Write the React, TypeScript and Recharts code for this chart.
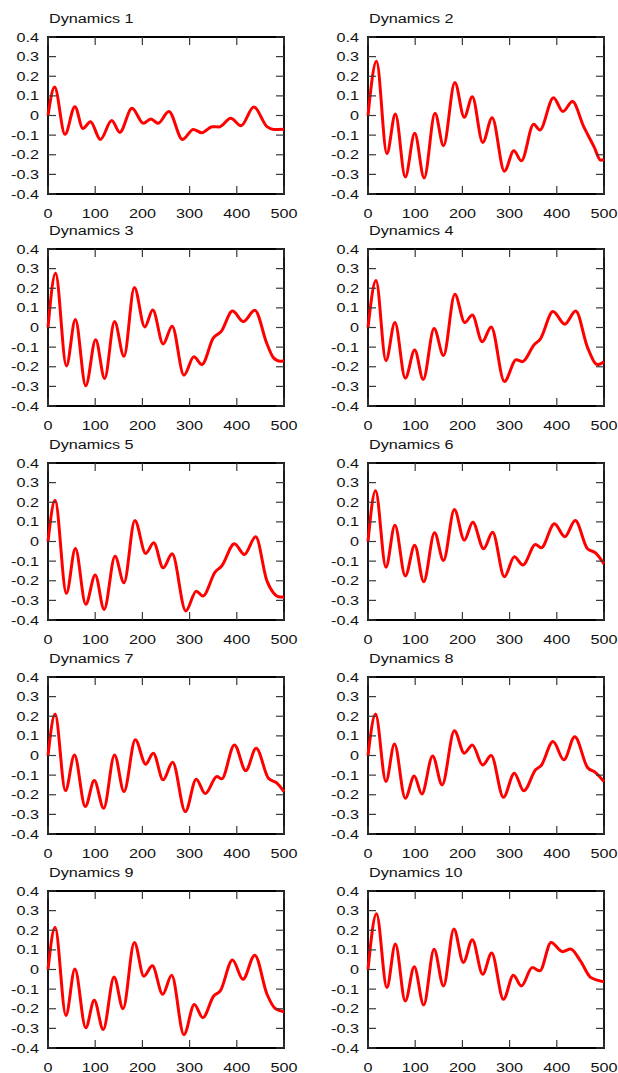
import React from "react";
import { Line, LineChart, ReferenceArea, XAxis, YAxis } from "recharts";

// Tick positions shared by every panel
const xTicks = [0, 100, 200, 300, 400, 500];
const yTicks = [-0.4, -0.3, -0.2, -0.1, 0, 0.1, 0.2, 0.3, 0.4];

// [step, value] pairs traced at each turning point of a run
const dynamics1: [number, number][] = [
  [0, 0], [14, 0.145], [36, -0.096], [57, 0.045], [74, -0.066], [90, -0.032],
  [111, -0.122], [135, -0.026], [152, -0.086], [178, 0.037], [202, -0.04],
  [218, -0.018], [233, -0.04], [256, 0.02], [285, -0.122], [308, -0.071],
  [326, -0.088], [348, -0.057], [363, -0.058], [387, -0.014], [409, -0.052],
  [436, 0.043], [464, -0.057], [478, -0.071], [500, -0.07],
];
const dynamics2: [number, number][] = [
  [0, 0], [18, 0.276], [40, -0.194], [58, 0.008], [79, -0.313], [99, -0.091],
  [119, -0.318], [142, 0.011], [160, -0.154], [184, 0.168], [204, -0.009],
  [221, 0.096], [243, -0.137], [263, -0.011], [289, -0.284], [309, -0.18],
  [325, -0.231], [351, -0.045], [364, -0.074], [393, 0.091], [413, 0.02],
  [433, 0.071], [457, -0.057], [479, -0.16], [493, -0.228], [500, -0.224],
];
const dynamics3: [number, number][] = [
  [0, 0], [16, 0.277], [39, -0.196], [58, 0.041], [80, -0.297], [101, -0.062],
  [120, -0.26], [141, 0.03], [161, -0.147], [183, 0.204], [205, 0.003],
  [222, 0.089], [244, -0.084], [263, 0.007], [288, -0.243], [309, -0.149],
  [326, -0.189], [350, -0.054], [367, -0.02], [391, 0.084], [414, 0.03],
  [438, 0.088], [464, -0.084], [478, -0.155], [492, -0.172], [500, -0.169],
];
const dynamics4: [number, number][] = [
  [0, 0], [17, 0.24], [38, -0.169], [57, 0.025], [79, -0.258], [99, -0.115],
  [117, -0.265], [140, -0.005], [160, -0.143], [184, 0.169], [205, 0.025],
  [221, 0.064], [242, -0.073], [261, 0.003], [289, -0.275], [314, -0.164],
  [327, -0.174], [352, -0.088], [365, -0.059], [392, 0.081], [417, 0.017],
  [440, 0.084], [465, -0.101], [486, -0.189], [500, -0.174],
];
const dynamics5: [number, number][] = [
  [0, 0], [15, 0.21], [39, -0.264], [58, -0.036], [80, -0.32], [100, -0.171],
  [119, -0.346], [142, -0.075], [161, -0.21], [184, 0.107], [207, -0.061],
  [224, -0.007], [244, -0.134], [263, -0.063], [292, -0.354], [314, -0.253],
  [328, -0.278], [354, -0.156], [368, -0.125], [395, -0.012], [416, -0.066],
  [440, 0.024], [464, -0.202], [492, -0.283], [500, -0.283],
];
const dynamics6: [number, number][] = [
  [0, 0], [16, 0.259], [38, -0.131], [57, 0.083], [79, -0.176], [99, -0.019],
  [118, -0.205], [141, 0.044], [160, -0.097], [183, 0.163], [204, 0.007],
  [222, 0.098], [245, -0.037], [264, 0.047], [289, -0.18], [310, -0.078],
  [328, -0.12], [355, -0.015], [367, -0.032], [395, 0.09], [417, 0.024],
  [439, 0.107], [465, -0.037], [482, -0.058], [500, -0.114],
];
const dynamics7: [number, number][] = [
  [0, 0], [15, 0.211], [37, -0.18], [56, 0.003], [79, -0.26], [98, -0.128],
  [118, -0.269], [141, 0.003], [161, -0.184], [185, 0.08], [207, -0.044],
  [223, 0.012], [244, -0.124], [264, -0.034], [291, -0.286], [314, -0.121],
  [333, -0.194], [358, -0.107], [368, -0.119], [395, 0.054], [419, -0.077],
  [441, 0.037], [467, -0.116], [485, -0.141], [500, -0.184],
];
const dynamics8: [number, number][] = [
  [0, 0], [16, 0.211], [38, -0.133], [56, 0.058], [79, -0.218], [98, -0.104],
  [114, -0.196], [137, -0.002], [157, -0.15], [183, 0.126], [204, 0.012],
  [221, 0.054], [243, -0.048], [261, 0], [287, -0.213], [310, -0.09],
  [330, -0.18], [355, -0.073], [367, -0.051], [392, 0.071], [415, -0.022],
  [438, 0.095], [465, -0.061], [482, -0.087], [500, -0.133],
];
const dynamics9: [number, number][] = [
  [0, 0], [15, 0.215], [38, -0.234], [57, 0.002], [80, -0.297], [98, -0.157],
  [117, -0.306], [140, -0.038], [159, -0.2], [183, 0.138], [203, -0.034],
  [221, 0.019], [243, -0.126], [262, -0.029], [288, -0.332], [310, -0.178],
  [328, -0.246], [351, -0.135], [365, -0.109], [391, 0.048], [413, -0.05],
  [438, 0.073], [464, -0.126], [482, -0.2], [500, -0.215],
];
const dynamics10: [number, number][] = [
  [0, 0], [18, 0.284], [40, -0.092], [58, 0.13], [79, -0.161], [98, 0.014],
  [118, -0.181], [140, 0.103], [160, -0.084], [182, 0.207], [202, 0.036],
  [221, 0.152], [243, -0.024], [262, 0.084], [287, -0.152], [308, -0.029],
  [325, -0.084], [348, 0.01], [364, -0.007], [388, 0.138], [412, 0.091],
  [429, 0.104], [450, 0.044], [472, -0.041], [500, -0.062],
];

const titles = [
  "Dynamics 1", "Dynamics 2", "Dynamics 3", "Dynamics 4", "Dynamics 5",
  "Dynamics 6", "Dynamics 7", "Dynamics 8", "Dynamics 9", "Dynamics 10",
];
const series = [
  dynamics1, dynamics2, dynamics3, dynamics4, dynamics5,
  dynamics6, dynamics7, dynamics8, dynamics9, dynamics10,
];

// grid placement of the plot boxes
const colLeft = [48, 368];
const rowTop = [37, 249, 463, 677, 891];
const PLOT_W = 236;
const PLOT_H = 157;
const AXIS_W = 48;
const TOP = 30;
const BOTTOM = 30;
const RIGHT = 30;

const TICK_LEN = 8;
const Y_GAP = 9; // label to left border
const X_GAP = 19; // bottom border to label centre

const FONT = "'Liberation Sans', Arial, Helvetica, sans-serif";
const SX = 1.2; // labels are drawn a little wide
const TEXT = "#111";
const TICK_COLOR = "#3a3a3a";

const fmt = (v: number) => (v === 0 ? "0" : v.toFixed(1));

// label plus inward tick marks on the bottom and top borders
const XTick = (p: any) => {
  const yb = p.y - X_GAP;
  const yt = yb - PLOT_H;
  return (
    <g>
      <line x1={p.x} x2={p.x} y1={yb} y2={yb - TICK_LEN} stroke={TICK_COLOR} strokeWidth={1.2} />
      <line x1={p.x} x2={p.x} y1={yt} y2={yt + TICK_LEN} stroke={TICK_COLOR} strokeWidth={1.2} />
      <text
        transform={`translate(${p.x},${p.y}) scale(${SX},1)`}
        textAnchor="middle"
        dominantBaseline="central"
        fontSize={13.5}
        fontFamily={FONT}
        fill={TEXT}
      >
        {p.payload.value}
      </text>
    </g>
  );
};

// label plus inward tick marks on the left and right borders
const YTick = (p: any) => {
  const xl = p.x + Y_GAP;
  const xr = xl + PLOT_W;
  return (
    <g>
      <line x1={xl} x2={xl + TICK_LEN} y1={p.y} y2={p.y} stroke={TICK_COLOR} strokeWidth={1.2} />
      <line x1={xr} x2={xr - TICK_LEN} y1={p.y} y2={p.y} stroke={TICK_COLOR} strokeWidth={1.2} />
      <text
        transform={`translate(${p.x},${p.y}) scale(${SX},1)`}
        textAnchor="end"
        dominantBaseline="central"
        fontSize={13.5}
        fontFamily={FONT}
        fill={TEXT}
      >
        {fmt(p.payload.value)}
      </text>
    </g>
  );
};

function Panel({
  title,
  points,
  left,
  top,
}: {
  title: string;
  points: [number, number][];
  left: number;
  top: number;
}) {
  const data = points.map(([t, v]) => ({ t, v }));
  return (
    <div style={{ position: "absolute", left: left - AXIS_W, top: top - TOP }}>
      <svg
        width={200}
        height={TOP}
        style={{ position: "absolute", left: 0, top: 0 }}
      >
        <text
          transform={`translate(${AXIS_W + 1},${TOP - 14}) scale(${SX},1)`}
          fontSize={13.5}
          fontFamily={FONT}
          fill={TEXT}
        >
          {title}
        </text>
      </svg>
      <LineChart
        width={AXIS_W + PLOT_W + RIGHT}
        height={TOP + PLOT_H + BOTTOM}
        data={data}
        margin={{ top: TOP, right: RIGHT, bottom: 0, left: 0 }}
      >
        <XAxis
          dataKey="t"
          type="number"
          domain={[0, 500]}
          ticks={xTicks}
          interval={0}
          height={BOTTOM}
          tickSize={0}
          tickMargin={X_GAP}
          tick={(p: any) => <XTick {...p} />}
          axisLine={false}
          tickLine={false}
        />
        <YAxis
          type="number"
          domain={[-0.4, 0.4]}
          ticks={yTicks}
          interval={0}
          width={AXIS_W}
          tickSize={0}
          tickMargin={Y_GAP}
          tick={(p: any) => <YTick {...p} />}
          axisLine={false}
          tickLine={false}
        />
        <ReferenceArea
          x1={0}
          x2={500}
          y1={-0.4}
          y2={0.4}
          fill="none"
          fillOpacity={0}
          stroke="#000"
          strokeWidth={1.8}
          strokeOpacity={1}
        />
        <Line
          dataKey="v"
          type="monotone"
          stroke="#ff0000"
          strokeWidth={3}
          dot={false}
          activeDot={false}
          isAnimationActive={false}
        />
      </LineChart>
    </div>
  );
}

export default function App() {
  return (
    <div
      style={{
        position: "absolute",
        left: 0,
        top: 0,
        width: 618,
        height: 1073,
        background: "#fff",
        overflow: "hidden",
      }}
    >
      {series.map((points, i) => (
        <Panel
          key={titles[i]}
          title={titles[i]}
          points={points}
          left={colLeft[i % 2]}
          top={rowTop[Math.floor(i / 2)]}
        />
      ))}
    </div>
  );
}
